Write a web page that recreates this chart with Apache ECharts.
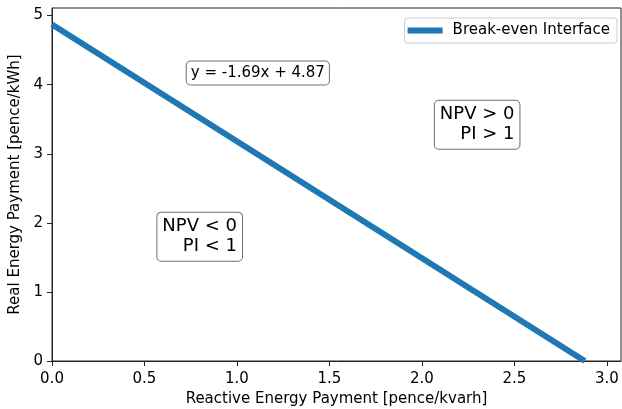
<!DOCTYPE html>
<html>
<head>
<meta charset="utf-8">
<script src="https://cdn.jsdelivr.net/npm/echarts@6/dist/echarts.min.js"></script>
<style>html,body{margin:0;padding:0;background:#fff}#c{width:622px;height:409px}</style>
</head>
<body>
<div id="c"></div>
<script>
// Data
const lineName = 'Break-even Interface';
const lineX = [0, 2.88];
const lineY = [4.87, 0];
const xTicks = [0, 0.5, 1.0, 1.5, 2.0, 2.5, 3.0];
const yTicks = [0, 1, 2, 3, 4, 5];
const xRange = [0, 3.076];
const yRange = [0, 5.11];
const eqText = 'y = -1.69x + 4.87';
const eqAnchor = [0.75, 4.17];
const posText = ['NPV > 0', 'PI > 1'];
const posAnchor = [2.5, 3.42];
const negText = ['NPV < 0', 'PI < 1'];
const negAnchor = [1.0, 1.8];

const FONT = '"DejaVu Sans", sans-serif';
const chart = echarts.init(document.getElementById('c'));
const fmt = v => (xTicks.some(t => Math.abs(t - v) < 1e-9) ? v.toFixed(1) : '');
const option = {
  animation: false,
  textStyle: { fontFamily: FONT },
  grid: { left: 52, right: 1, top: 8, bottom: 48, outerBoundsMode: 'none', containLabel: false,
    show: true, borderColor: '#262626', borderWidth: 1, backgroundColor: 'transparent' },
  legend: {
    right: 5, top: 18,
    data: [{ name: lineName, icon: 'rect' }],
    itemWidth: 35, itemHeight: 6,
    padding: [5, 7, 5, 3],
    borderColor: '#cccccc', borderWidth: 1, borderRadius: 3, backgroundColor: '#fff',
    textStyle: { fontFamily: FONT, fontSize: 15, color: '#000', padding: [0, 0, 0, 5] }
  },
  xAxis: {
    type: 'value', min: xRange[0], max: xRange[1], interval: 0.5,
    name: 'Reactive Energy Payment [pence/kvarh]', nameLocation: 'middle', nameGap: 28,
    nameTextStyle: { fontFamily: FONT, fontSize: 15, color: '#000' },
    axisLine: { show: true, lineStyle: { color: '#262626', width: 1 } },
    axisTick: { show: true, inside: false, length: 5, lineStyle: { color: '#262626' } },
    axisLabel: { fontFamily: FONT, fontSize: 15, color: '#000', margin: 11, formatter: fmt, showMaxLabel: false },
    splitLine: { show: false }
  },
  yAxis: {
    type: 'value', min: yRange[0], max: yRange[1], interval: 1,
    name: 'Real Energy Payment [pence/kWh]', nameLocation: 'middle', nameGap: 25,
    nameTextStyle: { fontFamily: FONT, fontSize: 15, color: '#000' },
    axisLine: { show: true, lineStyle: { color: '#262626', width: 1 } },
    axisTick: { show: true, inside: false, length: 5, lineStyle: { color: '#262626' } },
    axisLabel: { fontFamily: FONT, fontSize: 15, color: '#000', margin: 9, showMaxLabel: false,
      formatter: v => (yTicks.includes(v) ? String(v) : '') },
    splitLine: { show: false }
  },
  series: [{
    name: lineName, type: 'line', showSymbol: false, symbol: 'none',
    data: lineX.map((x, i) => [x, lineY[i]]),
    itemStyle: { color: '#1f77b4' },
    lineStyle: { color: '#1f77b4', width: 6, cap: 'butt' },
    clip: true
  }]
};
chart.setOption(option);

const p = a => chart.convertToPixel({ gridIndex: 0 }, a);
const eqP = p(eqAnchor), posP = p(posAnchor), negP = p(negAnchor);
const boxStyle = (fs) => ({
  font: fs + 'px ' + FONT, fill: '#000',
  backgroundColor: '#fff', borderColor: '#6e6e6e', borderWidth: 1, borderRadius: 4
});
chart.setOption({
  graphic: [
    { type: 'text', x: eqP[0] - 4, y: eqP[1], z: 100,
      style: Object.assign(boxStyle(15), { text: eqText, align: 'left', verticalAlign: 'middle', padding: [3, 4, 3, 4], lineHeight: 17 }) },
    { type: 'text', x: posP[0] + 5, y: posP[1], z: 100,
      style: Object.assign(boxStyle(18), { text: posText.join('\n'), align: 'right', verticalAlign: 'middle', padding: [4, 5, 4, 5], lineHeight: 20 }) },
    { type: 'text', x: negP[0] + 5, y: negP[1], z: 100,
      style: Object.assign(boxStyle(18), { text: negText.join('\n'), align: 'right', verticalAlign: 'middle', padding: [4, 5, 4, 5], lineHeight: 20 }) }
  ]
});
</script>
</body>
</html>
